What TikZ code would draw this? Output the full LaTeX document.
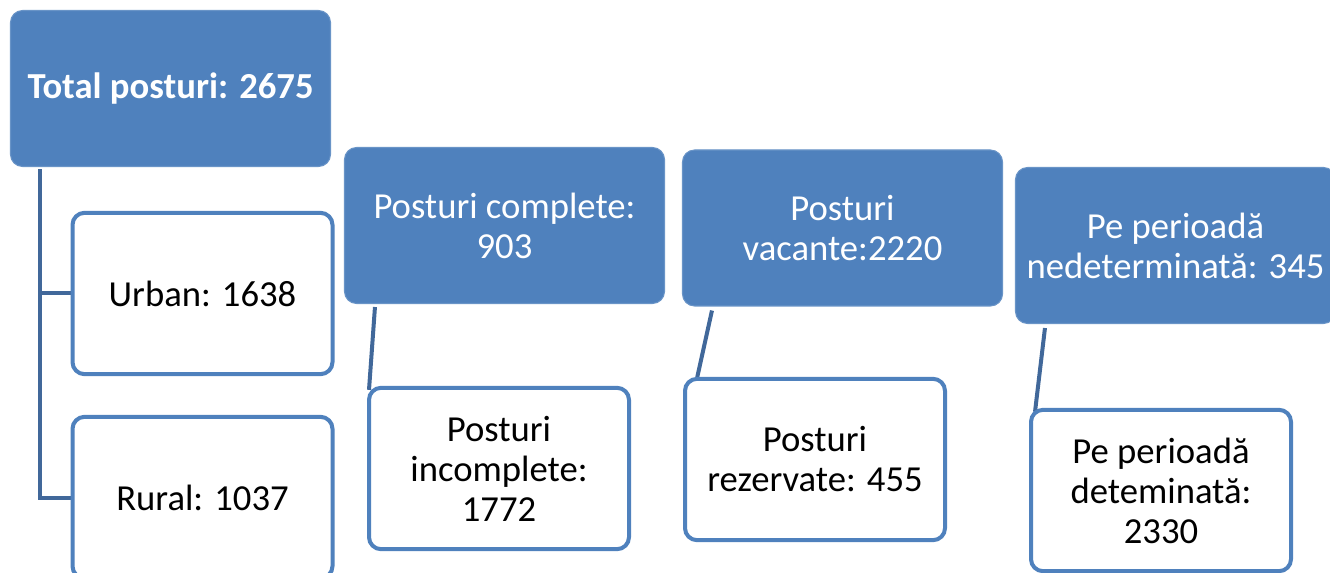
\documentclass[tikz,border=0pt]{standalone}
\usepackage{fontspec}
\setmainfont{Carlito}
\usetikzlibrary{calc,backgrounds}
\definecolor{accent}{HTML}{4F81BD}
\definecolor{linkc}{HTML}{41689A}
\tikzset{
  parent/.style={fill=accent, draw=accent!85!white, line width=0.8pt, rounded corners=9pt,
    text=white, align=center, minimum width=240pt, minimum height=117pt, inner sep=0pt,
    font=\fontsize{27.5}{30}\selectfont},
  child/.style={fill=white, draw=accent, line width=3pt, rounded corners=9pt,
    text=black, align=center, minimum width=195pt, minimum height=121pt, inner sep=0pt,
    font=\fontsize{27.5}{30}\selectfont},
  link/.style={draw=linkc, line width=3pt}
}
\begin{document}
\begin{tikzpicture}[x=0.75pt,y=-0.75pt]
\useasboundingbox (0,0) rectangle (1330,573);
\clip (0,0) rectangle (1330,573);
\node[parent] (total) at (170.5,88.5) {\bfseries Total posturi: 2675};
\node[child] (urban) at (202.5,293.5) {Urban: 1638};
\node[child] (rural) at (202.5,497.5) {Rural: 1037};
\node[parent] (comp) at (504.5,225.5) {Posturi complete:\\903};
\node[child] (incomp) at (499,468.5) {Posturi\\incomplete:\\1772};
\node[parent] (vac) at (842.5,228) {Posturi\\vacante:2220};
\node[child] (rez) at (815,459.5) {Posturi\\rezervate: 455};
\node[parent] (ned) at (1175.5,245.5) {Pe perioadă\\nedeterminată: 345};
\node[child] (det) at (1161,490.5) {Pe perioadă\\deteminată:\\2330};
\begin{pgfonlayer}{background}
\draw[link] ($(total.south west)+(30,2)$) |- (urban.west);
\draw[link] ($(total.south west)+(30,2)$) |- (rural.west);
\draw[link] ($(comp.south west)+(31,3)$) -- ($(incomp.north west)+(2,4)$);
\draw[link] ($(vac.south west)+(30,4)$) -- ($(rez.north west)+(13,6)$);
\draw[link] ($(ned.south west)+(30,4)$) -- ($(det.north west)+(6,4)$);
\end{pgfonlayer}
\end{tikzpicture}
\end{document}
